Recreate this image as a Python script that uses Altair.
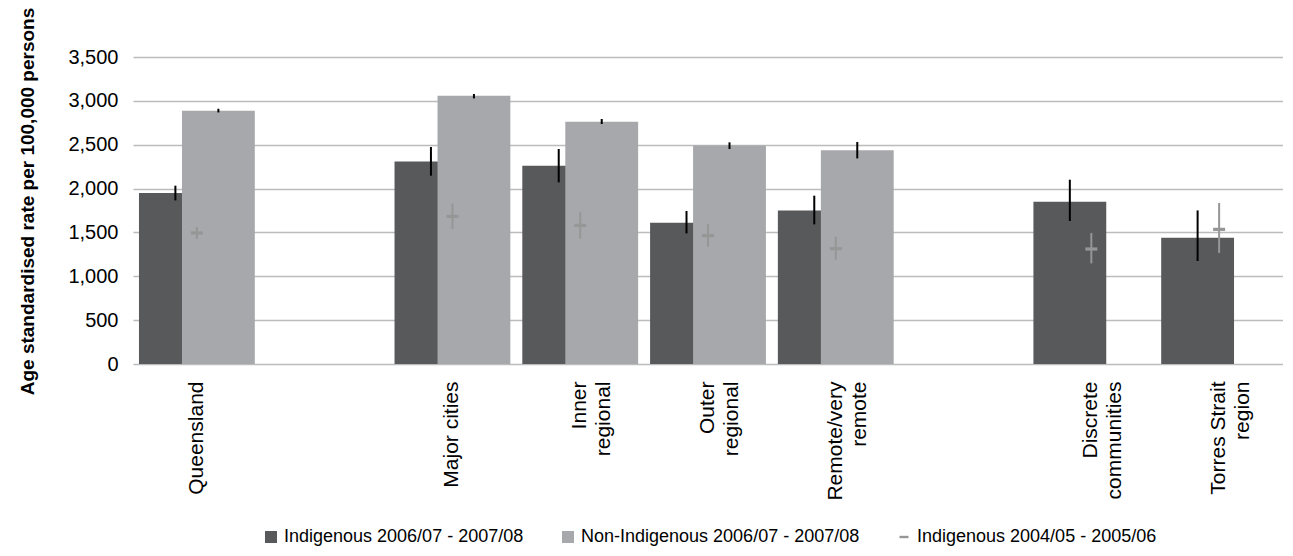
import altair as alt
import pandas as pd

# ---- data ----
categories = ["Queensland", "gap1", "Major cities", "Inner|regional", "Outer|regional",
              "Remote/very|remote", "gap2", "Discrete|communities", "Torres Strait|region"]
regions = ["Queensland", "Major cities", "Inner|regional", "Outer|regional",
           "Remote/very|remote", "Discrete|communities", "Torres Strait|region"]
series_names = ["Indigenous 2006/07 - 2007/08", "Non-Indigenous 2006/07 - 2007/08",
                "Indigenous 2004/05 - 2005/06"]

indig = [1950, 2310, 2260, 1610, 1750, 1850, 1440]
indig_lo = [1865, 2147, 2071, 1489, 1592, 1630, 1174]
indig_hi = [2033, 2474, 2451, 1744, 1919, 2101, 1751]

nonind = [2888, 3059, 2762, 2492, 2436, None, None]
nonind_lo = [2868, 3028, 2736, 2451, 2344, None, None]
nonind_hi = [2910, 3078, 2793, 2527, 2531, None, None]

prev = [1494, 1683, 1580, 1463, 1315, 1311, 1535]
prev_lo = [1425, 1539, 1428, 1337, 1189, 1147, 1266]
prev_hi = [1562, 1828, 1733, 1592, 1451, 1494, 1836]

y_ticks = [0, 500, 1000, 1500, 2000, 2500, 3000, 3500]

rows = []
for name, vals, los, his in [(series_names[0], indig, indig_lo, indig_hi),
                             (series_names[1], nonind, nonind_lo, nonind_hi),
                             (series_names[2], prev, prev_lo, prev_hi)]:
    for r, v, lo, hi in zip(regions, vals, los, his):
        if v is not None:
            rows.append({"region": r, "series": name, "value": v, "lo": lo, "hi": hi})
df = pd.DataFrame(rows)

DARK, LIGHT, GREY = "#58595b", "#a7a8ab", "#969696"
FONT = "Liberation Sans, Arial, Helvetica, sans-serif"

color_scale = alt.Scale(domain=series_names, range=[DARK, LIGHT, GREY])
shape_scale = alt.Scale(domain=series_names,
                        range=["square", "square", "M-0.75,-0.2H0.75V0.2H-0.75Z"])

x_enc = alt.X("region:N", scale=alt.Scale(domain=categories, paddingInner=0, paddingOuter=0),
              title=None,
              axis=alt.Axis(labelExpr="indexof(datum.value,'gap')==0 ? '' : split(datum.value,'|')",
                            labelAngle=-90, labelAlign="right", labelBaseline="middle",
                            labelFontSize=21, labelLineHeight=24, labelPadding=17,
                            ticks=False, domain=False, grid=False, labelColor="#000",
                            labelFont=FONT))
y_enc = alt.Y("value:Q", scale=alt.Scale(domain=[0, 3500], nice=False, zero=True),
              title="Age standardised rate per 100,000 persons",
              axis=alt.Axis(values=y_ticks, format=",.0f", labelFontSize=20, labelPadding=15,
                            ticks=False, domain=False, grid=True, gridColor="#bcbcbc",
                            gridWidth=1.3, labelColor="#000", labelFont=FONT,
                            titleFont=FONT, titleFontSize=19, titleFontWeight="bold",
                            titleColor="#000", titleAngle=-90, titleAlign="center",
                            titleBaseline="middle", titleX=-106, titleY=144))
color_enc = alt.Color("series:N", scale=color_scale, title=None)

base = alt.Chart(df)

dark_bar = base.transform_filter(alt.datum.series == series_names[0]).mark_bar(
    width=alt.RelativeBandSize(0.57), xOffset=-21.5).encode(x=x_enc, y=y_enc, color=color_enc)
light_bar = base.transform_filter(alt.datum.series == series_names[1]).mark_bar(
    width=alt.RelativeBandSize(0.57), xOffset=21.5).encode(x=x_enc, y=y_enc, color=color_enc)

dark_err = base.transform_filter(alt.datum.series == series_names[0]).mark_rule(
    color="#000", strokeWidth=2, xOffset=-21.5).encode(x=x_enc, y="lo:Q", y2="hi:Q")
light_err = base.transform_filter(alt.datum.series == series_names[1]).mark_rule(
    color="#000", strokeWidth=2, xOffset=21.5).encode(x=x_enc, y="lo:Q", y2="hi:Q")
prev_err = base.transform_filter(alt.datum.series == series_names[2]).mark_rule(
    color=GREY, strokeWidth=2).encode(x=x_enc, y="lo:Q", y2="hi:Q")
prev_pt = base.transform_filter(alt.datum.series == series_names[2]).mark_point(
    filled=True, size=256, opacity=1, strokeWidth=0).encode(
    x=x_enc, y=y_enc, color=color_enc,
    shape=alt.Shape("series:N", scale=shape_scale, title=None))

chart = alt.layer(dark_bar, light_bar, dark_err, light_err, prev_err, prev_pt).properties(
    width=1150, height=307,
    autosize=alt.AutoSizeParams(type="none"),
    padding={"left": 125, "top": 49, "right": 0, "bottom": 184},
).configure_view(stroke=None).configure_legend(
    orient="none", legendX=129, legendY=471, direction="horizontal",
    columnPadding=35, labelFontSize=18, labelFont=FONT, labelColor="#000",
    symbolSize=144, labelOffset=4, padding=0, symbolStrokeWidth=0, labelLimit=500,
    symbolOpacity=1,
)

chart.save("out.html", embed_options={"renderer": "svg", "actions": False})
